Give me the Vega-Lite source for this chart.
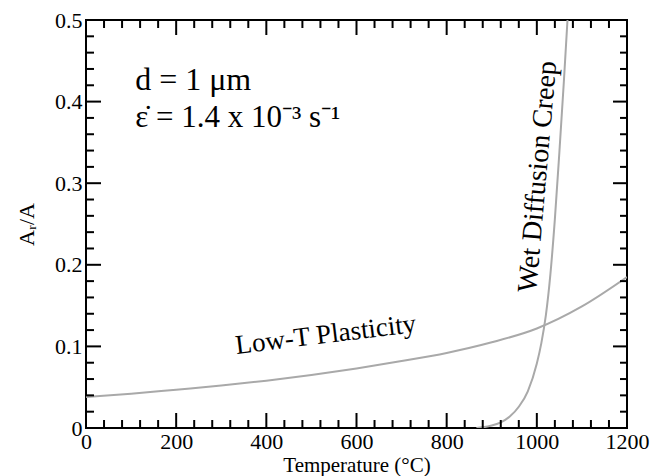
{
  "$schema": "https://vega.github.io/schema/vega-lite/v6.json",
  "width": 541,
  "height": 408,
  "autosize": {"type": "none"},
  "padding": {"left": 86, "top": 20, "right": 34, "bottom": 48},
  "background": "white",
  "datasets": {
    "curves": [
      {"series": "Low-T Plasticity", "T": 0, "A": 0.038},
      {"series": "Low-T Plasticity", "T": 100, "A": 0.042},
      {"series": "Low-T Plasticity", "T": 200, "A": 0.047},
      {"series": "Low-T Plasticity", "T": 300, "A": 0.052},
      {"series": "Low-T Plasticity", "T": 400, "A": 0.058},
      {"series": "Low-T Plasticity", "T": 500, "A": 0.065},
      {"series": "Low-T Plasticity", "T": 600, "A": 0.073},
      {"series": "Low-T Plasticity", "T": 700, "A": 0.082},
      {"series": "Low-T Plasticity", "T": 800, "A": 0.092},
      {"series": "Low-T Plasticity", "T": 900, "A": 0.105},
      {"series": "Low-T Plasticity", "T": 1000, "A": 0.122},
      {"series": "Low-T Plasticity", "T": 1100, "A": 0.149},
      {"series": "Low-T Plasticity", "T": 1200, "A": 0.185},
      {"series": "Wet Diffusion Creep", "T": 866, "A": 0.0},
      {"series": "Wet Diffusion Creep", "T": 880, "A": 0.0008},
      {"series": "Wet Diffusion Creep", "T": 900, "A": 0.003},
      {"series": "Wet Diffusion Creep", "T": 920, "A": 0.007},
      {"series": "Wet Diffusion Creep", "T": 940, "A": 0.014},
      {"series": "Wet Diffusion Creep", "T": 960, "A": 0.026},
      {"series": "Wet Diffusion Creep", "T": 980, "A": 0.045},
      {"series": "Wet Diffusion Creep", "T": 1000, "A": 0.079},
      {"series": "Wet Diffusion Creep", "T": 1010, "A": 0.104},
      {"series": "Wet Diffusion Creep", "T": 1020, "A": 0.138},
      {"series": "Wet Diffusion Creep", "T": 1030, "A": 0.188},
      {"series": "Wet Diffusion Creep", "T": 1040, "A": 0.256},
      {"series": "Wet Diffusion Creep", "T": 1050, "A": 0.338},
      {"series": "Wet Diffusion Creep", "T": 1060, "A": 0.425},
      {"series": "Wet Diffusion Creep", "T": 1068, "A": 0.5}
    ],
    "labels": [
      {"id": "low", "label": "Low-T Plasticity", "T": 532, "A": 0.114},
      {"id": "wet", "label": "Wet Diffusion Creep", "T": 1003, "A": 0.308},
      {"id": "d", "label": "d = 1 μm", "T": 109, "A": 0.414},
      {"id": "e", "label": "ε̇ = 1.4 x 10⁻³ s⁻¹", "T": 109, "A": 0.369}
    ],
    "xmajor": [{"v": 200}, {"v": 400}, {"v": 600}, {"v": 800}, {"v": 1000}],
    "xminor": [{"v": 40}, {"v": 80}, {"v": 120}, {"v": 160}, {"v": 240}, {"v": 280}, {"v": 320}, {"v": 360}, {"v": 440}, {"v": 480}, {"v": 520}, {"v": 560}, {"v": 640}, {"v": 680}, {"v": 720}, {"v": 760}, {"v": 840}, {"v": 880}, {"v": 920}, {"v": 960}, {"v": 1040}, {"v": 1080}, {"v": 1120}, {"v": 1160}],
    "ymajor": [{"v": 0.1}, {"v": 0.2}, {"v": 0.3}, {"v": 0.4}],
    "yminor": [{"v": 0.02}, {"v": 0.04}, {"v": 0.06}, {"v": 0.08}, {"v": 0.12}, {"v": 0.14}, {"v": 0.16}, {"v": 0.18}, {"v": 0.22}, {"v": 0.24}, {"v": 0.26}, {"v": 0.28}, {"v": 0.32}, {"v": 0.34}, {"v": 0.36}, {"v": 0.38}, {"v": 0.42}, {"v": 0.44}, {"v": 0.46}, {"v": 0.48}]
  },
  "layer": [
    {
      "data": {"name": "curves"},
      "mark": {"type": "line", "color": "#a9a9a9", "strokeWidth": 2, "interpolate": "monotone", "clip": true},
      "encoding": {
        "x": {"field": "T", "type": "quantitative", "scale": {"domain": [0, 1200], "nice": false},
          "axis": {"orient": "bottom", "values": [0, 200, 400, 600, 800, 1000, 1200], "ticks": false, "domain": false, "labelPadding": 3, "format": "d", "title": "Temperature (°C)", "titlePadding": 2, "titleFontSize": 21}},
        "y": {"field": "A", "type": "quantitative", "scale": {"domain": [0, 0.5], "nice": false, "zero": false},
          "axis": {"orient": "left", "values": [0, 0.1, 0.2, 0.3, 0.4, 0.5], "ticks": false, "domain": false, "labelPadding": 4, "labelExpr": "datum.value == 0 ? '0' : format(datum.value, '.1f')", "title": "Aᵣ/A", "titlePadding": 16, "titleFontSize": 22}},
        "detail": {"field": "series"}
      }
    },
    {
      "data": {"name": "xmajor"},
      "mark": {"type": "rule", "color": "black", "strokeWidth": 2},
      "encoding": {
        "x": {"field": "v", "type": "quantitative"},
        "y": {"datum": 0, "type": "quantitative"},
        "y2": {"datum": 0.0184}
      }
    },
    {
      "data": {"name": "xmajor"},
      "mark": {"type": "rule", "color": "black", "strokeWidth": 2},
      "encoding": {
        "x": {"field": "v", "type": "quantitative"},
        "y": {"datum": 0.5, "type": "quantitative"},
        "y2": {"datum": 0.4816}
      }
    },
    {
      "data": {"name": "xminor"},
      "mark": {"type": "rule", "color": "black", "strokeWidth": 2},
      "encoding": {
        "x": {"field": "v", "type": "quantitative"},
        "y": {"datum": 0, "type": "quantitative"},
        "y2": {"datum": 0.0098}
      }
    },
    {
      "data": {"name": "xminor"},
      "mark": {"type": "rule", "color": "black", "strokeWidth": 2},
      "encoding": {
        "x": {"field": "v", "type": "quantitative"},
        "y": {"datum": 0.5, "type": "quantitative"},
        "y2": {"datum": 0.4902}
      }
    },
    {
      "data": {"name": "ymajor"},
      "mark": {"type": "rule", "color": "black", "strokeWidth": 2},
      "encoding": {
        "y": {"field": "v", "type": "quantitative"},
        "x": {"datum": 0, "type": "quantitative"},
        "x2": {"datum": 33.3}
      }
    },
    {
      "data": {"name": "ymajor"},
      "mark": {"type": "rule", "color": "black", "strokeWidth": 2},
      "encoding": {
        "y": {"field": "v", "type": "quantitative"},
        "x": {"datum": 1200, "type": "quantitative"},
        "x2": {"datum": 1169}
      }
    },
    {
      "data": {"name": "yminor"},
      "mark": {"type": "rule", "color": "black", "strokeWidth": 2},
      "encoding": {
        "y": {"field": "v", "type": "quantitative"},
        "x": {"datum": 0, "type": "quantitative"},
        "x2": {"datum": 17.7}
      }
    },
    {
      "data": {"name": "yminor"},
      "mark": {"type": "rule", "color": "black", "strokeWidth": 2},
      "encoding": {
        "y": {"field": "v", "type": "quantitative"},
        "x": {"datum": 1200, "type": "quantitative"},
        "x2": {"datum": 1184.5}
      }
    },
    {
      "data": {"name": "labels"},
      "transform": [{"filter": "datum.id == 'low'"}],
      "mark": {"type": "text", "font": "Liberation Serif", "fontSize": 27, "angle": 353, "align": "center", "baseline": "middle", "color": "black"},
      "encoding": {
        "x": {"field": "T", "type": "quantitative"},
        "y": {"field": "A", "type": "quantitative"},
        "text": {"field": "label"}
      }
    },
    {
      "data": {"name": "labels"},
      "transform": [{"filter": "datum.id == 'wet'"}],
      "mark": {"type": "text", "font": "Liberation Serif", "fontSize": 28, "angle": 275, "align": "center", "baseline": "middle", "color": "black"},
      "encoding": {
        "x": {"field": "T", "type": "quantitative"},
        "y": {"field": "A", "type": "quantitative"},
        "text": {"field": "label"}
      }
    },
    {
      "data": {"name": "labels"},
      "transform": [{"filter": "datum.id == 'd'"}],
      "mark": {"type": "text", "font": "Liberation Serif", "fontSize": 32, "align": "left", "baseline": "alphabetic", "color": "black"},
      "encoding": {
        "x": {"field": "T", "type": "quantitative"},
        "y": {"field": "A", "type": "quantitative"},
        "text": {"field": "label"}
      }
    },
    {
      "data": {"name": "labels"},
      "transform": [{"filter": "datum.id == 'e'"}],
      "mark": {"type": "text", "font": "Liberation Serif", "fontSize": 31, "align": "left", "baseline": "alphabetic", "color": "black"},
      "encoding": {
        "x": {"field": "T", "type": "quantitative"},
        "y": {"field": "A", "type": "quantitative"},
        "text": {"field": "label"}
      }
    }
  ],
  "config": {
    "view": {"stroke": "black", "strokeWidth": 2},
    "axis": {
      "grid": false,
      "labelFont": "Liberation Serif",
      "labelFontSize": 22,
      "labelColor": "black",
      "labelFlush": false,
      "labelOverlap": false,
      "titleFont": "Liberation Serif",
      "titleFontWeight": "normal",
      "titleColor": "black"
    }
  }
}
